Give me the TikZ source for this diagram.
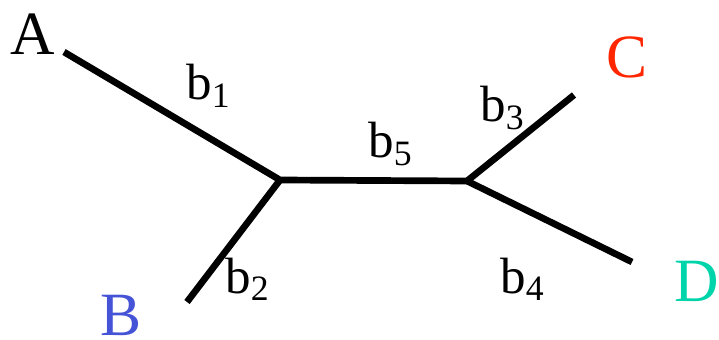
\documentclass[tikz,border=0pt]{standalone}
\usepackage{fontspec}
\setmainfont{Liberation Serif}
\usepackage{tikz}
\usetikzlibrary{calc}
\definecolor{TipB}{HTML}{4553D6}
\definecolor{TipC}{HTML}{FF2600}
\definecolor{TipD}{HTML}{00D4AA}
\tikzset{
  brn/.style={
    draw=black, line width=1.9pt, line cap=butt,
  },
  tip/.style args={#1}{
    text=#1, font=\fontsize{17.5}{20}\selectfont,
    anchor=base, inner sep=0pt,
  },
  blen/.style={
    text=black, font=\fontsize{14.5}{17}\selectfont,
    anchor=base, inner sep=0pt,
  },
}
\begin{document}
\begin{tikzpicture}[x=0.01cm,y=-0.01cm]
    \useasboundingbox (0,0) rectangle (719,340);
    % inner vertices and leaf ends
    \coordinate (u) at (280,180);
    \coordinate (v) at (467,181);
    \coordinate (a) at (64,52);
    \coordinate (b) at (187,302);
    \coordinate (c) at (574,95);
    \coordinate (d) at (632,262);
    \draw[brn] (a) -- (u) -- (v) -- (c);
    \draw[brn] (u) -- (b);
    \draw[brn] (v) -- (d);
    % taxa
    \node[tip=black] (tA) at (33,55) {A};
    \node[tip=TipB] (tB) at (121,335) {B};
    \node[tip=TipC] (tC) at (627,78) {C};
    \node[tip=TipD] (tD) at (697,301) {D};
    % branch lengths
    \foreach \n/\x/\y in {1/209/100, 2/248/293, 3/503/122, 4/523/293, 5/391/158}{
      \node[blen] (len\n) at (\x,\y) {b\textsubscript{\n}};
    }
\end{tikzpicture}
\end{document}
